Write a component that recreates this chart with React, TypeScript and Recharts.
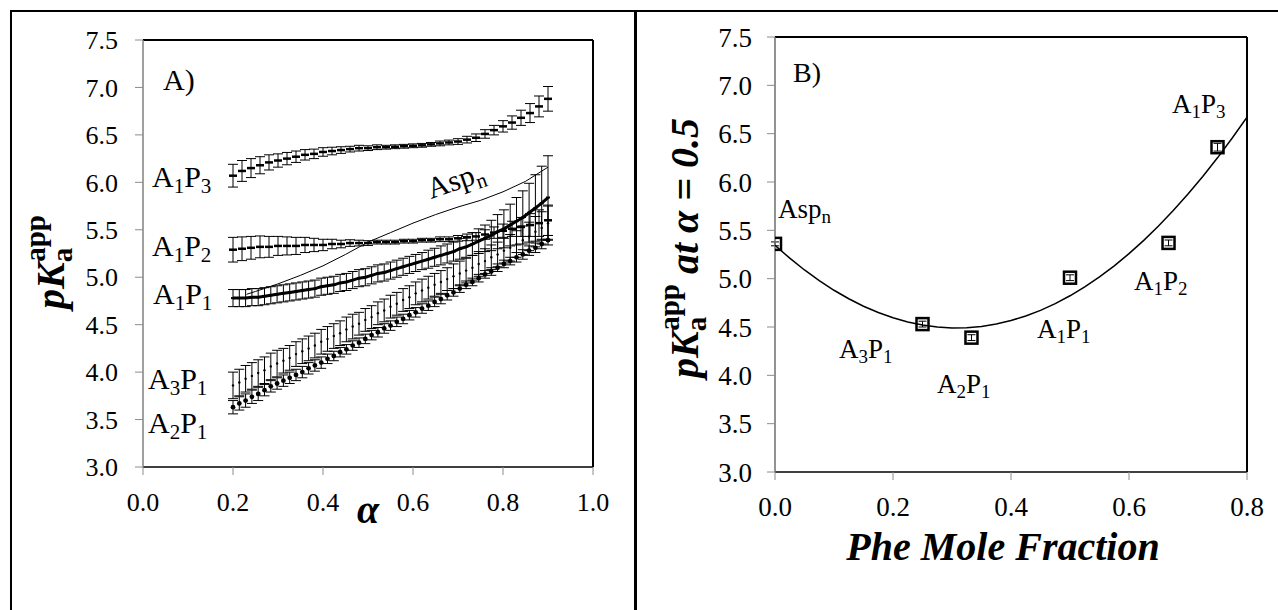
import React from 'react';
import { ScatterChart, Scatter, XAxis, YAxis, ErrorBar, ReferenceLine } from 'recharts';

const FONT = '"Liberation Serif", "Times New Roman", "DejaVu Serif", serif';

// ---------- Panel A data ----------
const alphaDense = [
  0.200, 0.214, 0.228, 0.242, 0.256, 0.270, 0.284, 0.298, 0.312, 0.326,
  0.340, 0.354, 0.368, 0.382, 0.396, 0.410, 0.424, 0.438, 0.452, 0.466,
  0.480, 0.494, 0.508, 0.522, 0.536, 0.550, 0.564, 0.578, 0.592, 0.606,
  0.620, 0.634, 0.648, 0.662, 0.676, 0.690, 0.704, 0.718, 0.732, 0.746,
  0.760, 0.774, 0.788, 0.802, 0.816, 0.830, 0.844, 0.858, 0.872, 0.886, 0.900,
];
const a3p1Vals = [
  3.86, 3.89, 3.93, 3.96, 3.99, 4.02, 4.06, 4.09, 4.12, 4.15,
  4.19, 4.22, 4.25, 4.28, 4.32, 4.35, 4.38, 4.41, 4.45, 4.48,
  4.51, 4.55, 4.58, 4.62, 4.65, 4.69, 4.72, 4.76, 4.79, 4.83,
  4.86, 4.89, 4.92, 4.95, 4.98, 5.01, 5.04, 5.07, 5.10, 5.14,
  5.17, 5.21, 5.24, 5.28, 5.31, 5.35, 5.39, 5.43, 5.48, 5.52, 5.57,
];
const a3p1Err = [
  0.14, 0.14, 0.14, 0.14, 0.14, 0.14, 0.14, 0.14, 0.13, 0.13,
  0.13, 0.13, 0.13, 0.13, 0.13, 0.13, 0.13, 0.13, 0.13, 0.13,
  0.12, 0.12, 0.12, 0.12, 0.12, 0.12, 0.12, 0.12, 0.12, 0.12,
  0.12, 0.12, 0.12, 0.12, 0.12, 0.13, 0.13, 0.13, 0.13, 0.13,
  0.13, 0.13, 0.13, 0.13, 0.14, 0.14, 0.15, 0.15, 0.16, 0.17, 0.18,
];
const a2p1Vals = [
  3.63, 3.67, 3.70, 3.74, 3.77, 3.81, 3.85, 3.88, 3.91, 3.94,
  3.97, 4.00, 4.04, 4.07, 4.10, 4.14, 4.17, 4.21, 4.24, 4.28,
  4.31, 4.35, 4.39, 4.42, 4.46, 4.49, 4.53, 4.56, 4.60, 4.63,
  4.67, 4.70, 4.74, 4.77, 4.81, 4.84, 4.88, 4.92, 4.95, 4.99,
  5.03, 5.06, 5.10, 5.14, 5.17, 5.21, 5.24, 5.28, 5.31, 5.35, 5.39,
];
const a2p1Err = [
  0.07, 0.07, 0.07, 0.07, 0.07, 0.06, 0.06, 0.06, 0.06, 0.06,
  0.06, 0.06, 0.06, 0.06, 0.06, 0.05, 0.05, 0.05, 0.05, 0.05,
  0.05, 0.05, 0.05, 0.05, 0.05, 0.05, 0.05, 0.05, 0.05, 0.05,
  0.05, 0.05, 0.05, 0.05, 0.05, 0.04, 0.04, 0.04, 0.04, 0.04,
  0.04, 0.04, 0.04, 0.04, 0.04, 0.05, 0.05, 0.05, 0.05, 0.05, 0.05,
];
const a1p1Vals = [
  4.78, 4.78, 4.78, 4.79, 4.79, 4.80, 4.81, 4.82, 4.83, 4.84,
  4.85, 4.86, 4.87, 4.88, 4.90, 4.91, 4.92, 4.94, 4.95, 4.97,
  4.99, 5.00, 5.02, 5.04, 5.05, 5.07, 5.09, 5.11, 5.13, 5.15,
  5.17, 5.19, 5.21, 5.23, 5.25, 5.27, 5.30, 5.32, 5.35, 5.38,
  5.41, 5.44, 5.48, 5.51, 5.55, 5.59, 5.63, 5.68, 5.73, 5.78, 5.84,
];
const a1p1Err = [
  0.09, 0.09, 0.09, 0.09, 0.09, 0.09, 0.09, 0.09, 0.09, 0.09,
  0.09, 0.09, 0.09, 0.09, 0.09, 0.09, 0.09, 0.09, 0.09, 0.09,
  0.09, 0.09, 0.09, 0.09, 0.09, 0.09, 0.09, 0.09, 0.09, 0.09,
  0.09, 0.095, 0.095, 0.10, 0.10, 0.10, 0.11, 0.11, 0.12, 0.13,
  0.14, 0.16, 0.18, 0.20, 0.22, 0.25, 0.28, 0.31, 0.35, 0.39, 0.44,
];

const alphaSparse = [
  0.20, 0.22, 0.24, 0.26, 0.28, 0.30, 0.32, 0.34, 0.36, 0.38,
  0.40, 0.42, 0.44, 0.46, 0.48, 0.50, 0.52, 0.54, 0.56, 0.58,
  0.60, 0.62, 0.64, 0.66, 0.68, 0.70, 0.72, 0.74, 0.76, 0.78,
  0.80, 0.82, 0.84, 0.86, 0.88, 0.90,
];
const a1p3Vals = [
  6.07, 6.12, 6.15, 6.18, 6.21, 6.23, 6.25, 6.27, 6.29, 6.30,
  6.32, 6.33, 6.34, 6.35, 6.36, 6.36, 6.37, 6.37, 6.375, 6.38,
  6.385, 6.39, 6.40, 6.41, 6.42, 6.43, 6.45, 6.47, 6.51, 6.55,
  6.59, 6.63, 6.68, 6.73, 6.80, 6.88,
];
const a1p3Err = [
  0.12, 0.11, 0.10, 0.09, 0.08, 0.07, 0.065, 0.06, 0.055, 0.05,
  0.045, 0.04, 0.035, 0.03, 0.03, 0.025, 0.025, 0.02, 0.02, 0.02,
  0.02, 0.02, 0.02, 0.025, 0.025, 0.03, 0.035, 0.04, 0.045, 0.05,
  0.06, 0.07, 0.08, 0.10, 0.11, 0.13,
];
const a1p2Vals = [
  5.29, 5.30, 5.31, 5.32, 5.32, 5.33, 5.33, 5.33, 5.34, 5.34,
  5.34, 5.35, 5.35, 5.36, 5.36, 5.36, 5.37, 5.37, 5.37, 5.38,
  5.38, 5.39, 5.39, 5.40, 5.40, 5.41, 5.42, 5.43, 5.45, 5.47,
  5.49, 5.51, 5.53, 5.55, 5.57, 5.60,
];
const a1p2Err = [
  0.13, 0.125, 0.12, 0.115, 0.11, 0.10, 0.095, 0.09, 0.08, 0.07,
  0.06, 0.05, 0.04, 0.035, 0.03, 0.025, 0.02, 0.02, 0.02, 0.02,
  0.02, 0.02, 0.02, 0.025, 0.025, 0.03, 0.035, 0.04, 0.05, 0.06,
  0.07, 0.08, 0.10, 0.12, 0.14, 0.16,
];

const aspAlpha = [0.23, 0.25, 0.30, 0.35, 0.40, 0.45, 0.50, 0.55, 0.60, 0.65, 0.70, 0.75, 0.80, 0.85, 0.90];
const aspVals = [4.82, 4.85, 4.93, 5.02, 5.12, 5.24, 5.37, 5.47, 5.57, 5.66, 5.74, 5.81, 5.90, 6.01, 6.16];

const ticksA_x = [0, 0.2, 0.4, 0.6, 0.8, 1.0];
const ticksY = [3.0, 3.5, 4.0, 4.5, 5.0, 5.5, 6.0, 6.5, 7.0, 7.5];

// ---------- Panel B data ----------
const pheFraction = [0, 0.25, 0.333, 0.5, 0.667, 0.75];
const pkaAtHalf = [5.36, 4.53, 4.39, 5.01, 5.37, 6.36];
const pkaAtHalfErr = [0.02, 0.03, 0.03, 0.03, 0.03, 0.04];

const fitX = [
  0, 0.025, 0.05, 0.075, 0.1, 0.125, 0.15, 0.175, 0.2, 0.225, 0.25, 0.275,
  0.3, 0.325, 0.35, 0.375, 0.4, 0.425, 0.45, 0.475, 0.5, 0.525, 0.55, 0.575,
  0.6, 0.625, 0.65, 0.675, 0.7, 0.725, 0.75, 0.775, 0.8,
];
const fitY = [
  5.345, 5.212, 5.09, 4.979, 4.88, 4.792, 4.715, 4.65, 4.595, 4.552, 4.52, 4.5,
  4.49, 4.493, 4.506, 4.531, 4.567, 4.614, 4.672, 4.742, 4.823, 4.915, 5.018, 5.133,
  5.259, 5.396, 5.544, 5.704, 5.875, 6.057, 6.25, 6.455, 6.671,
];
const ticksB_x = [0, 0.2, 0.4, 0.6, 0.8];

const toPts = (xs: number[], ys: number[], es?: number[]) =>
  xs.map((x, i) => ({ x, y: ys[i], e: es ? es[i] : 0 }));

// ---------- marker shapes ----------
const Dash = (p: any) => (
  <line x1={p.cx - 4} x2={p.cx + 4} y1={p.cy} y2={p.cy} stroke="#000" strokeWidth={2.5} />
);
const SmallDash = (p: any) => (
  <line x1={p.cx - 2} x2={p.cx + 2} y1={p.cy} y2={p.cy} stroke="#000" strokeWidth={2} />
);
const SmallDot = (p: any) => <circle cx={p.cx} cy={p.cy} r={1.2} fill="#000" />;
const BigDot = (p: any) => <circle cx={p.cx} cy={p.cy} r={2.4} fill="#000" />;
const NoMark = () => <g />;
const Square = (p: any) => (
  <rect x={p.cx - 6} y={p.cy - 6} width={12} height={12} fill="none" stroke="#000" strokeWidth={2.5} />
);

const fmt = (v: number) => v.toFixed(1);

// ---------- text helpers ----------
function Chem({ x, y, text, size }: { x: number; y: number; text: string; size: number }) {
  const tokens: { t: string; sub: boolean }[] = [];
  for (let i = 0; i < text.length; i++) {
    if (text[i] === '_') {
      tokens.push({ t: text[i + 1], sub: true });
      i++;
    } else {
      const last = tokens[tokens.length - 1];
      if (last && !last.sub) last.t += text[i];
      else tokens.push({ t: text[i], sub: false });
    }
  }
  const off = Math.round(size * 0.2);
  let cur = 0;
  return (
    <text x={x} y={y} fontSize={size} fontFamily={FONT} fill="#000">
      {tokens.map((tk, i) => {
        const target = tk.sub ? off : 0;
        const dy = target - cur;
        cur = target;
        return (
          <tspan key={i} dy={dy} fontSize={tk.sub ? Math.round(size * 0.7) : size}>
            {tk.t}
          </tspan>
        );
      })}
    </text>
  );
}

function YTitle({ cx, cy, extra }: { cx: number; cy: number; extra?: string }) {
  return (
    <text
      x={cx}
      y={cy}
      transform={`rotate(-90 ${cx} ${cy})`}
      textAnchor="middle"
      fontFamily={FONT}
      fontWeight="bold"
      fontSize={40}
      fill="#000"
    >
      <tspan fontStyle="italic">pK</tspan>
      <tspan fontSize={29} dy={8}>a</tspan>
      <tspan fontSize={29} dx={-14} dy={-27}>app</tspan>
      {extra ? (
        <tspan fontStyle="italic" dy={19}>{extra}</tspan>
      ) : null}
    </text>
  );
}

const tickStyle = (size: number) => ({ fill: '#000', fontSize: size, fontFamily: FONT });

export default function App() {
  const a1p3 = toPts(alphaSparse, a1p3Vals, a1p3Err);
  const a1p2 = toPts(alphaSparse, a1p2Vals, a1p2Err);
  const a1p1 = toPts(alphaDense, a1p1Vals, a1p1Err);
  const a3p1 = toPts(alphaDense, a3p1Vals, a3p1Err);
  const a2p1 = toPts(alphaDense, a2p1Vals, a2p1Err);
  const asp = toPts(aspAlpha, aspVals);
  const bPts = toPts(pheFraction, pkaAtHalf, pkaAtHalfErr);
  const fit = toPts(fitX, fitY);

  return (
    <div
      style={{
        position: 'absolute',
        left: 0,
        top: 0,
        width: 1278,
        height: 610,
        overflow: 'hidden',
        background: '#fff',
        fontFamily: FONT,
      }}
    >
      {/* outer frame and divider */}
      <div
        style={{
          position: 'absolute',
          left: 10,
          top: 10,
          width: 1320,
          height: 700,
          border: '2.5px solid #000',
        }}
      />
      <div style={{ position: 'absolute', left: 634, top: 10, width: 2.5, height: 700, background: '#000' }} />

      {/* Panel A */}
      <div style={{ position: 'absolute', left: 0, top: 0 }}>
        <ScatterChart width={640} height={610} margin={{ top: 40, right: 47, bottom: 83, left: 63 }}>
          <XAxis
            type="number"
            dataKey="x"
            domain={[0, 1]}
            ticks={ticksA_x}
            tickFormatter={fmt}
            height={60}
            tick={tickStyle(26)}
            tickSize={8}
            tickMargin={18}
            axisLine={{ stroke: '#000', strokeWidth: 1.5 }}
            tickLine={{ stroke: '#8c8c8c' }}
            allowDataOverflow
          />
          <YAxis
            type="number"
            domain={[3, 7.5]}
            ticks={ticksY}
            tickFormatter={fmt}
            width={80}
            tick={tickStyle(26)}
            tickSize={8}
            tickMargin={17}
            axisLine={{ stroke: '#808080', strokeWidth: 1.5 }}
            tickLine={{ stroke: '#8c8c8c' }}
            allowDataOverflow
          />
          <ReferenceLine y={7.5} stroke="#000" strokeWidth={2} />
          <ReferenceLine x={1} stroke="#000" strokeWidth={2} />

          <Scatter data={a2p1} dataKey="y" shape={BigDot} isAnimationActive={false}>
            <ErrorBar dataKey="e" direction="y" width={5} stroke="#000" strokeWidth={1} isAnimationActive={false} />
          </Scatter>
          <Scatter data={a3p1} dataKey="y" shape={SmallDot} isAnimationActive={false}>
            <ErrorBar dataKey="e" direction="y" width={5} stroke="#000" strokeWidth={1} isAnimationActive={false} />
          </Scatter>
          <Scatter data={a1p2} dataKey="y" shape={Dash} isAnimationActive={false}>
            <ErrorBar dataKey="e" direction="y" width={5} stroke="#000" strokeWidth={1} isAnimationActive={false} />
          </Scatter>
          <Scatter
            data={a1p1}
            dataKey="y"
            shape={SmallDash}
            line={{ stroke: '#000', strokeWidth: 3 }}
            lineType="joint"
            isAnimationActive={false}
          >
            <ErrorBar dataKey="e" direction="y" width={5} stroke="#000" strokeWidth={1} isAnimationActive={false} />
          </Scatter>
          <Scatter data={a1p3} dataKey="y" shape={Dash} isAnimationActive={false}>
            <ErrorBar dataKey="e" direction="y" width={5} stroke="#000" strokeWidth={1} isAnimationActive={false} />
          </Scatter>
          <Scatter
            data={asp}
            dataKey="y"
            shape={NoMark}
            line={{ stroke: '#000', strokeWidth: 1 }}
            lineType="joint"
            isAnimationActive={false}
          />
        </ScatterChart>
      </div>

      {/* Panel B */}
      <div style={{ position: 'absolute', left: 640, top: 0 }}>
        <ScatterChart width={638} height={610} margin={{ top: 37, right: 31, bottom: 78, left: 55 }}>
          <XAxis
            type="number"
            dataKey="x"
            domain={[0, 0.8]}
            ticks={ticksB_x}
            tickFormatter={fmt}
            height={60}
            tick={tickStyle(27)}
            tickSize={8}
            tickMargin={17}
            axisLine={{ stroke: '#000', strokeWidth: 1.5 }}
            tickLine={{ stroke: '#8c8c8c' }}
            allowDataOverflow
          />
          <YAxis
            type="number"
            domain={[3, 7.5]}
            ticks={ticksY}
            tickFormatter={fmt}
            width={80}
            tick={tickStyle(27)}
            tickSize={8}
            tickMargin={15}
            axisLine={{ stroke: '#6e6e6e', strokeWidth: 1.5 }}
            tickLine={{ stroke: '#8c8c8c' }}
            allowDataOverflow
          />
          <ReferenceLine y={7.5} stroke="#000" strokeWidth={2} />
          <ReferenceLine x={0.8} stroke="#000" strokeWidth={2} />
          <Scatter
            data={fit}
            dataKey="y"
            shape={NoMark}
            line={{ stroke: '#000', strokeWidth: 1.5 }}
            lineType="joint"
            isAnimationActive={false}
          />
          <Scatter data={bPts} dataKey="y" shape={Square} isAnimationActive={false}>
            <ErrorBar dataKey="e" direction="y" width={4} stroke="#000" strokeWidth={1} isAnimationActive={false} />
          </Scatter>
        </ScatterChart>
      </div>

      {/* text overlay */}
      <svg
        width={1278}
        height={610}
        style={{ position: 'absolute', left: 0, top: 0, pointerEvents: 'none' }}
      >
        {/* Panel A labels */}
        <Chem x={163} y={90} text="A)" size={30} />
        <Chem x={152} y={187} text="A_1P_3" size={30} />
        <Chem x={152} y={256} text="A_1P_2" size={30} />
        <Chem x={153} y={304} text="A_1P_1" size={30} />
        <Chem x={148} y={389} text="A_3P_1" size={30} />
        <Chem x={148} y={433} text="A_2P_1" size={30} />
        <g transform="rotate(-19 431 199)">
          <Chem x={431} y={199} text="Asp_n" size={30} />
        </g>
        <YTitle cx={64} cy={262} />
        <text
          x={368}
          y={523}
          textAnchor="middle"
          fontFamily={FONT}
          fontWeight="bold"
          fontStyle="italic"
          fontSize={40}
          fill="#000"
        >
          α
        </text>

        {/* Panel B labels */}
        <Chem x={793} y={82} text="B)" size={28} />
        <Chem x={778} y={218} text="Asp_n" size={27} />
        <Chem x={839} y={358} text="A_3P_1" size={27} />
        <Chem x={937} y={393} text="A_2P_1" size={27} />
        <Chem x={1037} y={338} text="A_1P_1" size={27} />
        <Chem x={1134} y={290} text="A_1P_2" size={27} />
        <Chem x={1172} y={113} text="A_1P_3" size={27} />
        <YTitle cx={698} cy={248} extra=" at α = 0.5" />
        <text
          x={1003}
          y={560}
          textAnchor="middle"
          fontFamily={FONT}
          fontWeight="bold"
          fontStyle="italic"
          fontSize={40}
          fill="#000"
        >
          Phe Mole Fraction
        </text>
      </svg>
    </div>
  );
}
